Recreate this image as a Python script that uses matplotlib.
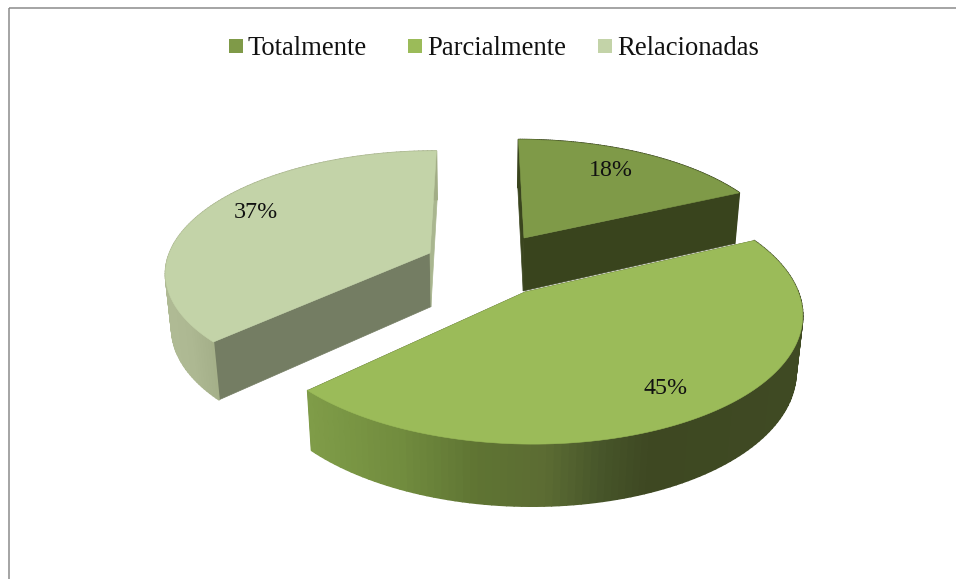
import numpy as np
import matplotlib
matplotlib.use("Agg")
import matplotlib.pyplot as plt
from matplotlib.collections import PolyCollection
from matplotlib.colors import to_rgb
from matplotlib.patches import Polygon, Rectangle

categories = ["Totalmente", "Parcialmente", "Relacionadas"]
values = [18, 45, 37]
labels = ["18%", "45%", "37%"]

top_colors = ["#7f9a48", "#9bbb59", "#c3d3a8"]
start_face_colors = ["#3a451e", "#3d4822", "#747d63"]
end_face_colors = ["#39441d", "#3d4822", "#a9b68f"]

# camera / projection
CX, CY, RX, RY, K, KZ, DZ = 480.0, 270.0, 266.0, 122.0, 0.15, 0.02, 54.5
anchors = [(524, 238), (525, 292), (430, 253)]      # explode: apex position of each slice
label_pos = [(611, 170), (666, 388), (256, 212)]
plt.rcParams["font.family"] = ["Liberation Serif", "DejaVu Serif"]

side_maps = [
    None,
    [(310, "#7f9c48"), (400, "#718c3e"), (476, "#5f7433"), (545, "#5c6c33"),
     (600, "#47562a"), (650, "#3e4822"), (810, "#3f4a23")],
    [(160, "#b0bb95"), (190, "#adb892"), (220, "#a2ad86")],
]


def project(X, Y, Z=0.0):
    X, Y = np.asarray(X, float), np.asarray(Y, float)
    w = 1 - K * Y
    s = w + KZ * Z
    return CX + RX * X / s, CY + RY * Y / s + Z * DZ / w


def offset(ax, ay):
    sy = ay - CY
    Y = sy / (RY + K * sy)
    X = (ax - CX) * (1 - K * Y) / RX
    return X, Y


fig = plt.figure(figsize=(9.56, 5.79), dpi=100)
ax = fig.add_axes([0, 0, 1, 1])
ax.set_xlim(0, 956)
ax.set_ylim(579, 0)
ax.axis("off")

# frame of the chart area
ax.add_patch(Rectangle((9.2, 7.6), 1100, 700, fill=False, ec="#8c8c8c", lw=1.1))

fractions = np.array(values) / sum(values)
edges = np.concatenate([[0], np.cumsum(fractions)]) * 2 * np.pi

for i in [0, 2, 1]:
    ox, oy = offset(*anchors[i])
    t = np.linspace(edges[i], edges[i + 1], 120)
    X, Y = ox + np.sin(t), oy - np.cos(t)

    # radial faces
    for tt, col in ((edges[i], start_face_colors[i]), (edges[i + 1], end_face_colors[i])):
        px = [ox, ox + np.sin(tt), ox + np.sin(tt), ox]
        py = [oy, oy - np.cos(tt), oy - np.cos(tt), oy]
        pz = [0, 0, 1, 1]
        pts = [project(a, b, c) for a, b, c in zip(px, py, pz)]
        ax.add_patch(Polygon(pts, closed=True, fc=col, ec=col, lw=0.5))

    # outer wall
    x0, y0 = project(X, Y, 0)
    x1, y1 = project(X, Y, 1)
    quads = [[(x0[j], y0[j]), (x0[j + 1], y0[j + 1]), (x1[j + 1], y1[j + 1]), (x1[j], y1[j])]
             for j in range(len(t) - 1)]
    xm = (x0[:-1] + x0[1:]) / 2
    if side_maps[i] is None:
        cols = [end_face_colors[i]] * len(quads)
    else:
        xs = [s[0] for s in side_maps[i]]
        rgb = np.array([to_rgb(s[1]) for s in side_maps[i]])
        cols = np.column_stack([np.interp(xm, xs, rgb[:, c]) for c in range(3)])
    ax.add_collection(PolyCollection(quads, facecolors=cols, edgecolors=cols, linewidths=1.2))

    # top face
    tx, ty = project(np.r_[ox, X], np.r_[oy, Y], 0)
    ax.add_patch(Polygon(np.column_stack([tx, ty]), closed=True, fc=top_colors[i],
                         ec=top_colors[i], lw=0.4))

for (x, y), s in zip(label_pos, labels):
    ax.text(x, y, s, ha="center", va="center", fontsize=17.3, color="#111111")

# legend
for (px, tx), name, col in zip([(229, 248), (408, 427), (598, 617)], categories, top_colors):
    ax.add_patch(Rectangle((px, 39), 14, 14, fc=col, ec="none"))
    ax.text(tx, 55, name, ha="left", va="baseline", fontsize=19.2, color="#111111")

fig.savefig("out.png", dpi=100, facecolor="white")
